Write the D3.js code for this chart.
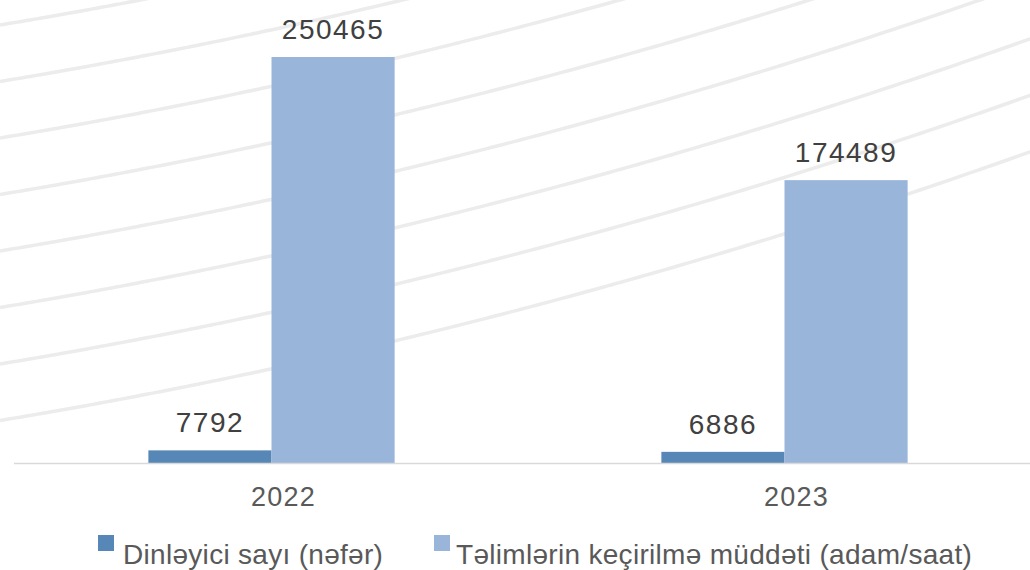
<!DOCTYPE html>
<html><head><meta charset="utf-8">
<script src="https://cdn.jsdelivr.net/npm/d3@7"></script>
<style>html,body{margin:0;padding:0;background:#fff;}svg{display:block;}</style>
</head><body>
<svg id="c" width="1030" height="570"></svg>
<script>
const categories = ["2022", "2023"];
const seriesNames = ["Dinləyici sayı (nəfər)", "Təlimlərin keçirilmə müddəti (adam/saat)"];
const listeners = [7792, 6886];
const trainingHours = [250465, 174489];
const colors = ["#5787b7", "#99b5da"];

const svg = d3.select("#c");
const W = 1030, H = 570;
const axisY = 463;

// decorative background curves
const bg = svg.append("g");
const curveStarts = [25, 81.5, 138, 194.5, 251, 307.5, 364, 420.5];
const xs = d3.range(0, W + 11, 10);
const bgLine = d3.line().x(d => d[0]).y(d => d[1]).curve(d3.curveBasis);
curveStarts.forEach(y0 => {
  bg.append("path")
    .attr("d", bgLine(xs.map(x => [x, y0 - (0.165 * x + 9.3e-5 * x * x)])))
    .attr("fill", "none").attr("stroke", "#ececec").attr("stroke-width", 3.5);
});
// white mask below axis region for curves not needed (curves stay above)

const x0 = d3.scaleBand().domain(categories).range([15, 1041]).paddingInner(0.52).paddingOuter(0.26);
const x1 = d3.scaleBand().domain([0, 1]).range([0, x0.bandwidth()]).padding(0);
const y = d3.scaleLinear().domain([0, 300000]).range([axisY, axisY - 300000 * 406 / 250465]);

const data = categories.map((c, i) => ({cat: c, vals: [listeners[i], trainingHours[i]]}));

const groups = svg.append("g").selectAll("g").data(data).join("g")
  .attr("transform", d => `translate(${x0(d.cat)},0)`);

groups.selectAll("rect").data(d => d.vals.map((v, k) => ({k, v}))).join("rect")
  .attr("x", d => x1(d.k))
  .attr("width", x1.bandwidth())
  .attr("y", d => y(d.v))
  .attr("height", d => axisY - y(d.v))
  .attr("fill", d => colors[d.k]);

groups.selectAll("text.val").data(d => d.vals.map((v, k) => ({k, v}))).join("text")
  .attr("class", "val")
  .attr("x", d => x1(d.k) + x1.bandwidth() / 2)
  .attr("y", d => y(d.v) - 18)
  .attr("text-anchor", "middle")
  .attr("font-family", "Liberation Sans, Arial, sans-serif")
  .attr("font-size", 28)
  .attr("letter-spacing", 1.5)
  .attr("fill", "#404040")
  .text(d => d.v);

// axis
const xAxis = d3.axisBottom(x0).tickSize(0).tickPadding(0);
const ax = svg.append("g").attr("transform", `translate(0,${axisY})`).call(xAxis);
ax.select(".domain").remove();
ax.selectAll("text")
  .attr("dy", 0).attr("y", 43).attr("dx", 12)
  .attr("font-family", "Liberation Sans, Arial, sans-serif")
  .attr("font-size", 27).attr("letter-spacing", 1.2)
  .attr("fill", "#595959");
svg.append("line").attr("x1", 14).attr("x2", W).attr("y1", axisY + 0.5).attr("y2", axisY + 0.5)
  .attr("stroke", "#d9d9d9").attr("stroke-width", 1.5);

// legend
const legendX = [98, 434];
const lg = svg.append("g").selectAll("g").data(seriesNames).join("g")
  .attr("transform", (d, i) => `translate(${legendX[i]},535)`);
lg.append("rect").attr("width", 16).attr("height", 16).attr("fill", (d, i) => colors[i]);
lg.append("text").attr("x", (d, i) => i === 0 ? 25 : 22).attr("y", 29)
  .attr("font-family", "Liberation Sans, Arial, sans-serif")
  .attr("font-size", 28).attr("letter-spacing", 0.3)
  .attr("fill", "#595959").text(d => d);
</script>
</body></html>
